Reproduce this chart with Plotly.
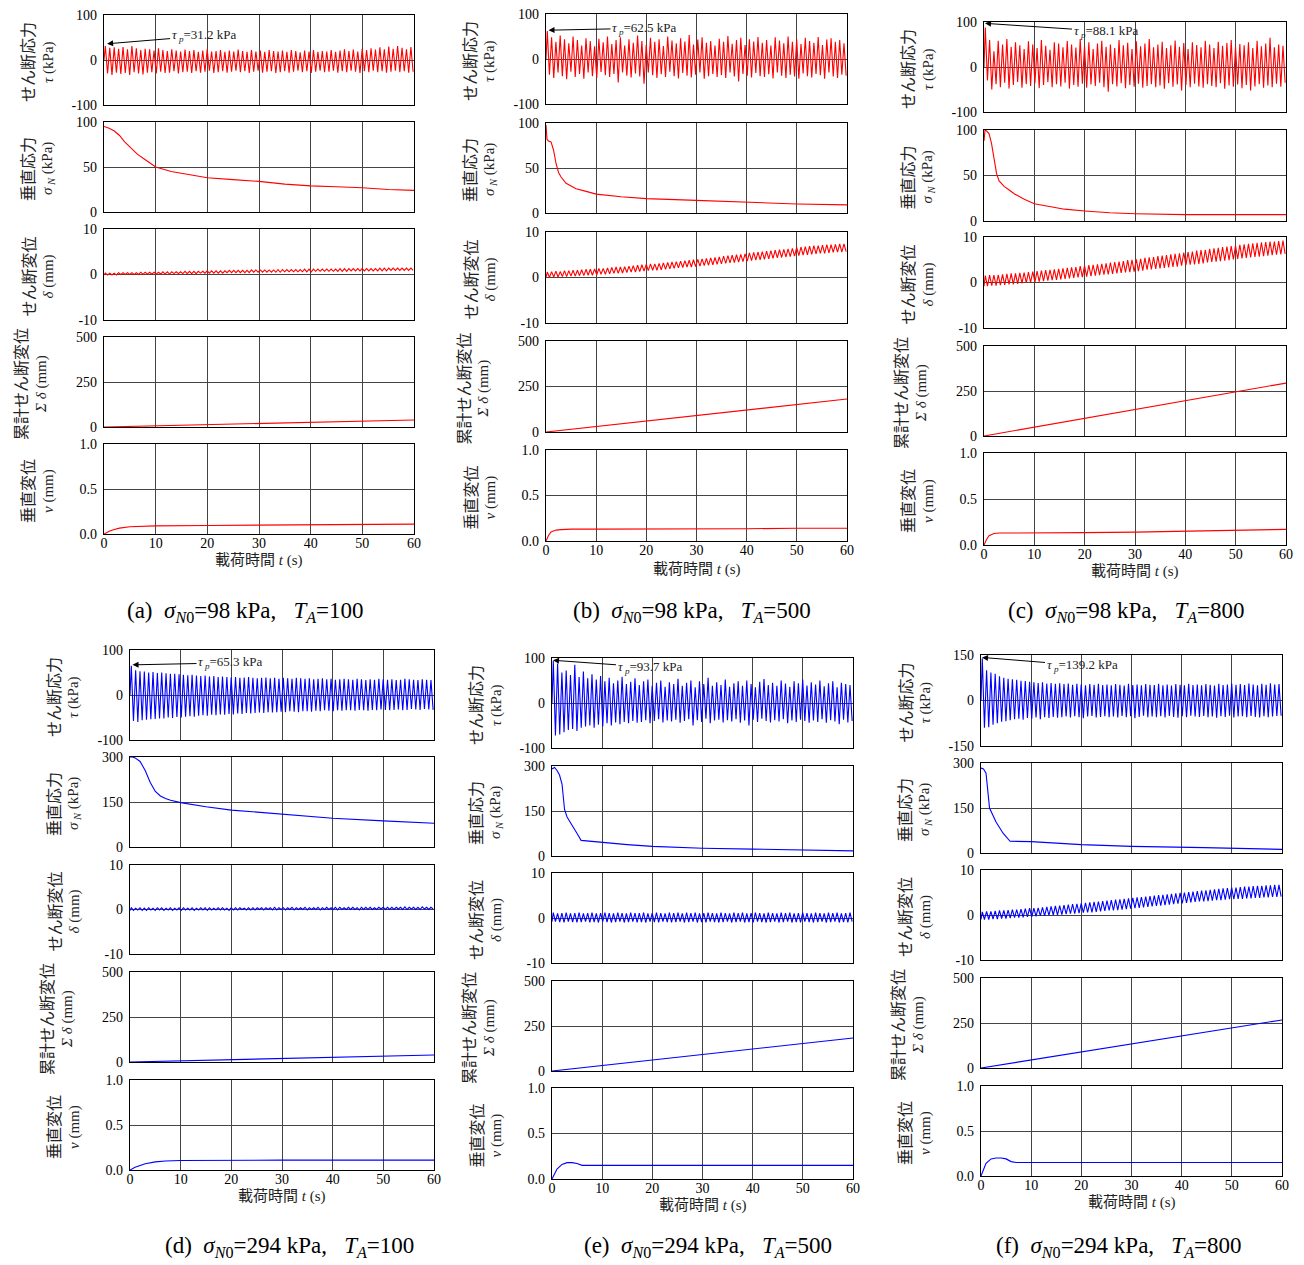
import plotly.graph_objects as go

W, H = 1304, 1265
OFF = 8                      # the page body margin the figure sits inside
FW, FH = W - OFF, H - OFF
T_END = 60.0

# ---------------- data ----------------
# shear stress tau (kPa): peak / trough of each loading cycle
tau_pk_a = [31, 27, 28, 25, 29, 24, 31, 26, 22, 25,
            24, 21, 26, 22, 20, 24, 21, 19, 23, 20,
            22, 18, 21, 24, 19, 20, 22, 18, 21, 19,
            23, 20, 18, 22, 19, 21, 18, 22, 20, 19,
            21, 18, 22, 20, 17, 21, 19, 22, 18, 20,
            19, 22, 18, 21, 24, 20, 23, 19, 25, 22,
            26, 23, 28, 24, 30, 25, 31, 27, 24, 29]
tau_tr_a = [-30, -33, -28, -31, -29, -33, -27, -30, -32, -28,
            -27, -30, -26, -29, -28, -25, -30, -27, -26, -29,
            -25, -28, -26, -24, -29, -27, -25, -28, -26, -24,
            -27, -25, -29, -26, -24, -28, -26, -25, -29, -27,
            -25, -28, -26, -24, -27, -25, -29, -26, -24, -27,
            -26, -24, -28, -25, -27, -24, -26, -29, -25, -27,
            -24, -27, -25, -28, -26, -24, -27, -25, -28, -26]
tau_pk_b = [62, 48, 38, 52, 44, 35, 50, 42, 30, 46,
            40, 28, 45, 37, 50, 33, 42, 48, 30, 44,
            36, 52, 40, 31, 47, 38, 44, 29, 50, 41,
            35, 46, 39, 53, 32, 43, 48, 36, 40, 30,
            45, 38, 51, 34, 42, 47, 31, 44, 39, 49,
            36, 42, 30, 48, 41, 35, 50, 38, 44, 33,
            47, 40, 36, 49, 31, 43, 46, 38, 42, 35]
tau_tr_b = [-35, -42, -30, -38, -45, -28, -40, -33, -44, -30,
            -38, -42, -29, -36, -40, -33, -52, -30, -37, -41,
            -32, -39, -55, -30, -36, -42, -34, -40, -28, -38,
            -43, -31, -37, -41, -35, -30, -44, -38, -33, -40,
            -36, -42, -30, -39, -50, -33, -37, -41, -31, -38,
            -40, -34, -43, -30, -37, -42, -35, -39, -44, -32,
            -38, -41, -33, -36, -44, -30, -39, -42, -35, -37]
tau_pk_c = [88, 60, 35, 58, 50, 62, 45, 55, 48, 40,
            57, 50, 42, 60, 47, 38, 55, 52, 44, 58,
            50, 43, 62, 47, 55, 40, 52, 58, 45, 50,
            42, 60, 48, 54, 40, 57, 46, 52, 62, 44,
            50, 56, 42, 48, 59, 45, 53, 40, 55, 49,
            44, 58, 50, 42, 56, 47, 53, 60, 45, 51,
            48, 55, 42, 58, 46, 52, 65, 44, 50, 47]
tau_tr_c = [-30, -50, -38, -45, -35, -48, -40, -33, -46, -38,
            -42, -36, -47, -40, -34, -45, -38, -43, -35, -48,
            -40, -44, -37, -46, -39, -42, -35, -45, -55, -38,
            -43, -36, -47, -40, -44, -37, -46, -42, -38, -45,
            -41, -48, -36, -44, -39, -52, -40, -45, -37, -43,
            -46, -38, -42, -45, -36, -48, -41, -44, -39, -47,
            -40, -52, -43, -38, -46, -41, -45, -37, -44, -35]
tau_pk_d = [65, 55, 53, 52, 50, 51, 49, 50, 48, 47,
            47, 46, 45, 44, 45, 43, 42, 43, 41, 42,
            40, 41, 40, 39, 40, 38, 39, 40, 38, 37,
            38, 39, 37, 38, 36, 38, 37, 36, 38, 37,
            36, 37, 35, 36, 37, 35, 36, 34, 35, 36,
            35, 34, 36, 35, 33, 35, 34, 36, 35, 34,
            35, 33, 34, 36, 35, 34, 33, 35, 34, 33]
tau_tr_d = [-58, -60, -56, -55, -54, -53, -52, -52, -50, -51,
            -49, -50, -48, -47, -48, -46, -45, -46, -44, -45,
            -43, -44, -42, -43, -41, -42, -40, -41, -40, -39,
            -40, -38, -39, -38, -37, -38, -36, -37, -38, -36,
            -36, -37, -35, -36, -34, -35, -36, -34, -35, -34,
            -34, -35, -33, -34, -35, -33, -34, -32, -33, -34,
            -33, -32, -34, -33, -31, -32, -33, -31, -32, -33]
tau_pk_e = [94, 88, 68, 72, 62, 85, 58, 70, 55, 64,
            52, 60, 48, 56, 44, 50, 58, 42, 47, 55,
            40, 48, 52, 38, 45, 50, 36, 46, 42, 54,
            38, 45, 50, 35, 48, 42, 56, 38, 46, 40,
            52, 36, 44, 48, 38, 50, 42, 35, 47, 53,
            40, 45, 38, 50, 43, 36, 48, 44, 52, 39,
            46, 41, 50, 37, 44, 48, 35, 45, 42, 40]
tau_tr_e = [-72, -70, -65, -60, -58, -62, -55, -52, -50, -55,
            -48, -52, -45, -50, -43, -47, -42, -45, -40, -44,
            -42, -38, -45, -40, -36, -43, -39, -41, -37, -44,
            -40, -36, -50, -38, -42, -35, -45, -39, -37, -43,
            -38, -41, -36, -44, -39, -50, -37, -42, -35, -40,
            -43, -38, -41, -36, -45, -39, -42, -37, -40, -44,
            -39, -42, -36, -44, -38, -41, -47, -37, -43, -40]
tau_pk_f = [139, 100, 92, 88, 80, 75, 72, 70, 68, 65,
            64, 62, 60, 58, 60, 56, 58, 55, 57, 54,
            56, 52, 55, 53, 50, 54, 52, 55, 51, 53,
            50, 54, 52, 49, 55, 51, 53, 50, 54, 52,
            51, 55, 50, 53, 49, 54, 52, 50, 55, 51,
            53, 50, 54, 52, 49, 55, 51, 53, 56, 52,
            54, 51, 56, 53, 50, 55, 52, 57, 53, 54]
tau_tr_f = [-90, -88, -80, -75, -70, -68, -65, -62, -60, -63,
            -58, -60, -56, -62, -55, -58, -54, -57, -55, -53,
            -56, -52, -55, -58, -53, -51, -56, -54, -52, -55,
            -53, -56, -51, -55, -52, -58, -54, -50, -55, -53,
            -55, -52, -56, -51, -54, -57, -52, -55, -50, -53,
            -54, -51, -55, -53, -57, -52, -54, -50, -56, -53,
            -52, -55, -51, -54, -56, -52, -55, -53, -51, -50]

# shear displacement delta (mm): high / low of each cycle
dl_hi_a = [0.3, 0.3, 0.3, 0.4, 0.4, 0.4, 0.4, 0.4, 0.5, 0.5,
           0.5, 0.5, 0.5, 0.6, 0.6, 0.6, 0.6, 0.6, 0.7, 0.7,
           0.7, 0.7, 0.7, 0.8, 0.8, 0.8, 0.8, 0.8, 0.9, 0.9,
           0.9, 0.9, 0.9, 1.0, 1.0, 1.0, 1.0, 1.0, 1.0, 1.1,
           1.1, 1.1, 1.1, 1.1, 1.1, 1.2, 1.2, 1.2, 1.2, 1.2,
           1.2, 1.2, 1.2, 1.3, 1.3, 1.3, 1.3, 1.3, 1.3, 1.3,
           1.3, 1.3, 1.4, 1.4, 1.4, 1.4, 1.4, 1.4, 1.4, 1.4]
dl_lo_a = [-0.1, -0.1, -0.1, 0.0, 0.0, 0.0, 0.0, 0.0, 0.0, 0.1,
           0.1, 0.1, 0.1, 0.1, 0.1, 0.2, 0.2, 0.2, 0.2, 0.2,
           0.2, 0.3, 0.3, 0.3, 0.3, 0.3, 0.3, 0.4, 0.4, 0.4,
           0.4, 0.4, 0.4, 0.5, 0.5, 0.5, 0.5, 0.5, 0.5, 0.5,
           0.6, 0.6, 0.6, 0.6, 0.6, 0.6, 0.6, 0.7, 0.7, 0.7,
           0.7, 0.7, 0.7, 0.7, 0.7, 0.8, 0.8, 0.8, 0.8, 0.8,
           0.8, 0.8, 0.8, 0.8, 0.9, 0.9, 0.9, 0.9, 0.9, 0.9]
dl_hi_b = [1.2, 1.3, 1.4, 1.3, 1.5, 1.5, 1.6, 1.6, 1.7, 1.8,
           1.8, 1.9, 2.0, 2.0, 2.1, 2.2, 2.3, 2.3, 2.4, 2.5,
           2.6, 2.7, 2.8, 2.9, 3.0, 3.0, 3.1, 3.2, 3.3, 3.4,
           3.5, 3.6, 3.7, 3.8, 3.9, 4.0, 4.1, 4.2, 4.3, 4.4,
           4.5, 4.7, 4.8, 4.9, 5.0, 5.1, 5.2, 5.4, 5.5, 5.6,
           5.7, 5.8, 5.9, 6.0, 6.1, 6.2, 6.3, 6.4, 6.6, 6.7,
           6.8, 6.9, 7.0, 7.0, 7.1, 7.2, 7.2, 7.3, 7.4, 7.4]
dl_lo_b = [0.0, 0.1, 0.1, 0.2, 0.2, 0.3, 0.3, 0.4, 0.4, 0.5,
           0.5, 0.6, 0.7, 0.7, 0.8, 0.9, 0.9, 1.0, 1.1, 1.2,
           1.2, 1.3, 1.4, 1.5, 1.6, 1.6, 1.7, 1.8, 1.9, 2.0,
           2.1, 2.2, 2.3, 2.3, 2.4, 2.5, 2.6, 2.7, 2.8, 2.9,
           3.0, 3.1, 3.2, 3.3, 3.4, 3.5, 3.6, 3.7, 3.8, 3.9,
           4.0, 4.1, 4.2, 4.3, 4.4, 4.5, 4.6, 4.7, 4.8, 4.9,
           5.0, 5.1, 5.2, 5.3, 5.3, 5.4, 5.5, 5.6, 5.6, 5.7]
dl_hi_c = [1.5, 1.6, 1.6, 1.7, 1.8, 1.9, 2.0, 2.0, 2.1, 2.2,
           2.3, 2.4, 2.5, 2.6, 2.7, 2.8, 2.9, 3.0, 3.1, 3.2,
           3.3, 3.4, 3.6, 3.7, 3.8, 3.9, 4.0, 4.1, 4.2, 4.4,
           4.5, 4.6, 4.7, 4.9, 5.0, 5.1, 5.2, 5.4, 5.5, 5.6,
           5.8, 5.9, 6.0, 6.2, 6.3, 6.4, 6.6, 6.7, 6.8, 7.0,
           7.1, 7.2, 7.4, 7.5, 7.6, 7.8, 7.9, 8.0, 8.1, 8.3,
           8.4, 8.5, 8.6, 8.7, 8.8, 8.9, 9.0, 9.0, 9.1, 9.2]
dl_lo_c = [-0.8, -0.7, -0.7, -0.6, -0.5, -0.4, -0.4, -0.3, -0.2, -0.1,
           0.0, 0.1, 0.2, 0.3, 0.4, 0.5, 0.6, 0.7, 0.8, 0.9,
           1.0, 1.1, 1.2, 1.3, 1.4, 1.5, 1.6, 1.7, 1.8, 1.9,
           2.0, 2.1, 2.2, 2.3, 2.4, 2.5, 2.6, 2.8, 2.9, 3.0,
           3.1, 3.2, 3.3, 3.4, 3.5, 3.7, 3.8, 3.9, 4.0, 4.1,
           4.2, 4.4, 4.5, 4.6, 4.7, 4.8, 4.9, 5.1, 5.2, 5.3,
           5.4, 5.5, 5.6, 5.7, 5.8, 5.9, 6.0, 6.1, 6.2, 6.3]
dl_hi_d = [0.4, 0.3, 0.4, 0.3, 0.4, 0.3, 0.4, 0.4, 0.3, 0.4,
           0.3, 0.4, 0.4, 0.3, 0.4, 0.3, 0.4, 0.4, 0.4, 0.3,
           0.4, 0.4, 0.3, 0.4, 0.4, 0.4, 0.3, 0.4, 0.4, 0.4,
           0.4, 0.4, 0.4, 0.5, 0.4, 0.4, 0.4, 0.5, 0.4, 0.4,
           0.5, 0.4, 0.4, 0.5, 0.4, 0.5, 0.4, 0.5, 0.5, 0.4,
           0.5, 0.5, 0.4, 0.5, 0.5, 0.5, 0.4, 0.5, 0.5, 0.5,
           0.5, 0.5, 0.5, 0.6, 0.5, 0.5, 0.5, 0.6, 0.5, 0.5]
dl_lo_d = [-0.2, -0.1, -0.2, -0.2, -0.1, -0.2, -0.1, -0.2, -0.1, -0.2,
           -0.1, -0.2, -0.1, -0.1, -0.2, -0.1, -0.1, -0.2, -0.1, -0.1,
           -0.1, -0.1, -0.2, -0.1, -0.1, 0.0, -0.1, -0.1, -0.1, 0.0,
           -0.1, 0.0, -0.1, -0.1, 0.0, -0.1, 0.0, -0.1, 0.0, 0.0,
           -0.1, 0.0, 0.0, -0.1, 0.0, 0.0, 0.0, -0.1, 0.0, 0.0,
           0.0, 0.0, -0.1, 0.0, 0.0, 0.0, 0.0, 0.1, 0.0, 0.0,
           0.0, 0.1, 0.0, 0.0, 0.1, 0.0, 0.0, 0.1, 0.0, 0.1]
dl_hi_e = [1.2, 1.0, 1.1, 1.2, 1.0, 1.1, 1.2, 1.0, 1.1, 1.2,
           1.0, 1.1, 1.2, 1.1, 1.0, 1.2, 1.1, 1.0, 1.2, 1.1,
           1.1, 1.2, 1.0, 1.1, 1.2, 1.1, 1.0, 1.2, 1.1, 1.2,
           1.0, 1.2, 1.1, 1.2, 1.0, 1.1, 1.2, 1.1, 1.0, 1.2,
           1.1, 1.0, 1.2, 1.1, 1.2, 1.0, 1.1, 1.2, 1.1, 1.0,
           1.2, 1.1, 1.0, 1.2, 1.1, 1.2, 1.0, 1.1, 1.2, 1.1,
           1.0, 1.2, 1.1, 1.0, 1.2, 1.1, 1.2, 1.0, 1.1, 1.2]
dl_lo_e = [-0.8, -0.9, -1.0, -0.8, -0.9, -1.0, -0.9, -0.8, -1.0, -0.9,
           -1.0, -0.8, -0.9, -1.0, -0.9, -0.8, -1.0, -0.9, -0.8, -1.0,
           -0.9, -1.0, -0.8, -0.9, -1.0, -0.8, -0.9, -1.0, -0.9, -0.8,
           -1.0, -0.9, -0.8, -1.0, -0.9, -1.0, -0.8, -0.9, -1.0, -0.9,
           -0.8, -1.0, -0.9, -0.8, -1.0, -0.9, -1.0, -0.8, -0.9, -1.0,
           -0.9, -0.8, -1.0, -0.9, -0.8, -1.0, -0.9, -1.0, -0.8, -0.9,
           -1.0, -0.9, -0.8, -1.0, -0.9, -0.8, -1.0, -0.9, -1.0, -0.8]
dl_hi_f = [0.7, 0.8, 0.8, 0.9, 1.0, 1.0, 1.1, 1.2, 1.2, 1.3,
           1.4, 1.5, 1.5, 1.6, 1.7, 1.8, 1.9, 2.0, 2.1, 2.2,
           2.3, 2.4, 2.5, 2.6, 2.7, 2.8, 2.9, 3.0, 3.1, 3.2,
           3.3, 3.4, 3.5, 3.6, 3.7, 3.8, 3.9, 4.0, 4.1, 4.2,
           4.3, 4.4, 4.5, 4.6, 4.7, 4.8, 4.9, 5.0, 5.1, 5.2,
           5.3, 5.4, 5.5, 5.6, 5.7, 5.8, 5.9, 6.0, 6.1, 6.1,
           6.2, 6.3, 6.3, 6.4, 6.5, 6.5, 6.6, 6.6, 6.7, 6.7]
dl_lo_f = [-1.0, -1.0, -0.9, -0.9, -0.8, -0.8, -0.7, -0.6, -0.6, -0.5,
           -0.4, -0.4, -0.3, -0.2, -0.2, -0.1, 0.0, 0.0, 0.1, 0.2,
           0.3, 0.3, 0.4, 0.5, 0.6, 0.6, 0.7, 0.8, 0.9, 1.0,
           1.0, 1.1, 1.2, 1.3, 1.4, 1.5, 1.6, 1.7, 1.8, 1.9,
           2.0, 2.1, 2.2, 2.3, 2.4, 2.5, 2.6, 2.7, 2.8, 2.9,
           3.0, 3.0, 3.1, 3.2, 3.3, 3.3, 3.4, 3.5, 3.5, 3.6,
           3.6, 3.7, 3.7, 3.8, 3.8, 3.9, 3.9, 4.0, 4.0, 4.1]

# normal stress sigma_N (kPa) at time knots
sn_t_a = [0, 1, 2, 3, 4, 5, 6.5, 8, 10, 13, 16, 20, 25, 30, 35, 40, 45, 50, 55, 60]
sn_a = [95, 93, 90, 85, 78, 72, 64, 58, 50, 45, 42, 38, 36, 34, 31, 29, 28, 27, 25, 24]
sn_t_b = [0, 0.2, 0.5, 1, 1.5, 2, 2.5, 3, 4, 5, 6, 8, 10, 15, 20, 30, 40, 50, 60]
sn_b = [98, 82, 80, 79, 70, 55, 45, 40, 33, 30, 27, 24, 21, 18, 16, 14, 12, 10, 9]
sn_t_c = [0, 0.2, 0.5, 1, 1.5, 2, 2.5, 3, 4, 5, 6, 8, 10, 13, 16, 20, 25, 30, 40, 50, 60]
sn_c = [88, 100, 99, 96, 85, 68, 52, 44, 38, 34, 30, 24, 19, 16, 13, 11, 9, 8, 7, 7, 7]
sn_t_d = [0, 0.5, 1, 2, 3, 4, 5, 6, 7, 8, 10, 12, 15, 20, 25, 30, 40, 50, 60]
sn_d = [300, 300, 297, 285, 255, 215, 185, 170, 162, 156, 148, 142, 134, 123, 116, 108, 96, 87, 79]
sn_t_e = [0, 0.5, 1, 1.5, 2, 2.5, 3, 4, 5, 5.8, 7, 10, 15, 20, 30, 40, 50, 60]
sn_e = [290, 295, 285, 270, 240, 155, 130, 100, 75, 52, 50, 45, 38, 32, 26, 23, 20, 17]
sn_t_f = [0, 0.5, 1, 1.7, 3, 4.4, 5.8, 10, 20, 30, 44.5, 60]
sn_f = [283, 280, 266, 150, 103, 66, 39, 38, 28, 22, 18, 12]

# cumulative shear displacement (mm) every 10 s
sum_t = [0, 10, 20, 30, 40, 50, 60]
sum_a = [0, 6, 12, 18, 25, 32, 39]
sum_b = [0, 30, 60, 90, 120, 150, 181]
sum_c = [0, 49, 98, 147, 196, 245, 294]
sum_d = [0, 6, 12, 19, 25, 32, 39]
sum_e = [0, 30, 61, 91, 122, 152, 183]
sum_f = [0, 44, 89, 133, 178, 222, 267]

# vertical displacement v (mm)
v_t_a = [0, 1, 2, 3, 5, 8, 10, 20, 30, 40, 50, 60]
v_a = [0, 0.03, 0.05, 0.065, 0.08, 0.085, 0.09, 0.095, 0.1, 0.105, 0.11, 0.11]
v_t_b = [0, 0.5, 1, 2, 3, 5, 10, 20, 30, 40, 50, 60]
v_b = [0, 0.06, 0.1, 0.12, 0.125, 0.13, 0.13, 0.13, 0.135, 0.135, 0.14, 0.14]
v_t_c = [0, 0.5, 1, 2, 3, 5, 10, 20, 30, 40, 50, 60]
v_c = [0, 0.06, 0.1, 0.125, 0.13, 0.13, 0.135, 0.135, 0.14, 0.15, 0.16, 0.17]
v_t_d = [0, 1, 2, 3, 5, 7, 10, 20, 30, 40, 50, 60]
v_d = [0, 0.03, 0.05, 0.07, 0.09, 0.1, 0.105, 0.11, 0.11, 0.11, 0.11, 0.11]
v_t_e = [0, 0.5, 1, 2, 3, 4, 5, 6, 7, 10, 20, 30, 40, 50, 60]
v_e = [0, 0.06, 0.11, 0.16, 0.18, 0.18, 0.17, 0.15, 0.15, 0.15, 0.15, 0.15, 0.15, 0.15, 0.15]
v_t_f = [0, 0.5, 1, 2, 3, 4, 5, 6, 7, 10, 20, 30, 40, 50, 60]
v_f = [0, 0.08, 0.14, 0.19, 0.2, 0.2, 0.19, 0.16, 0.15, 0.15, 0.15, 0.15, 0.15, 0.15, 0.15]

tau_peak_txt = ["31.2", "62.5", "88.1", "65.3", "93.7", "139.2"]
sig0_txt = ["98", "98", "98", "294", "294", "294"]
ta_txt = ["100", "500", "800", "100", "500", "800"]
panel_ids = ["a", "b", "c", "d", "e", "f"]

# ---------------- layout geometry (page pixels) ----------------
# tip = arrow head (data coords), lab = pixel offset of the label centre from the head
geo = [
    dict(L=104, R=414, boxes=[(15, 105), (122, 212), (229, 320), (337, 427), (444, 534)], xlab=560, cap=(245, 612),
         tip=(0.6, 36), lab=(97, -8)),
    dict(L=546, R=847, boxes=[(14, 104), (123, 213), (232, 323), (341, 432), (450, 541)], xlab=569, cap=(692, 612),
         tip=(0.5, 64), lab=(96, -2)),
    dict(L=984, R=1286, boxes=[(22, 112), (130, 221), (237, 328), (346, 436), (453, 545)], xlab=571, cap=(1126, 612),
         tip=(0.2, 97), lab=(121, 8)),
    dict(L=130, R=434, boxes=[(650, 740), (757, 847), (865, 954), (972, 1062), (1080, 1170)], xlab=1196, cap=(289, 1247),
         tip=(0.5, 67), lab=(98, -2)),
    dict(L=552, R=853, boxes=[(658, 748), (766, 856), (873, 963), (981, 1071), (1088, 1179)], xlab=1205, cap=(708, 1247),
         tip=(0.2, 95), lab=(97, 7)),
    dict(L=981, R=1282, boxes=[(655, 746), (763, 853), (870, 960), (978, 1068), (1086, 1176)], xlab=1202, cap=(1118, 1247),
         tip=(0.2, 142), lab=(100, 8)),
]

SERIF = "Liberation Serif, Noto Sans CJK JP"
CJK = "Noto Sans CJK JP"
GRID = "#444444"


def px(x):
    return (x - OFF) / FW


def py(y):
    return 1 - (y - OFF) / FH


def cycles(hi, lo, start):
    p = T_END / len(hi)
    t, y = [0.0], [start]
    for i in range(len(hi)):
        t += [p * (i + 0.3), p * (i + 0.8)]
        y += [hi[i], lo[i]]
    return t, y


panels = [
    (tau_pk_a, tau_tr_a, dl_hi_a, dl_lo_a, sn_t_a, sn_a, sum_a, v_t_a, v_a),
    (tau_pk_b, tau_tr_b, dl_hi_b, dl_lo_b, sn_t_b, sn_b, sum_b, v_t_b, v_b),
    (tau_pk_c, tau_tr_c, dl_hi_c, dl_lo_c, sn_t_c, sn_c, sum_c, v_t_c, v_c),
    (tau_pk_d, tau_tr_d, dl_hi_d, dl_lo_d, sn_t_d, sn_d, sum_d, v_t_d, v_d),
    (tau_pk_e, tau_tr_e, dl_hi_e, dl_lo_e, sn_t_e, sn_e, sum_e, v_t_e, v_e),
    (tau_pk_f, tau_tr_f, dl_hi_f, dl_lo_f, sn_t_f, sn_f, sum_f, v_t_f, v_f),
]

titles1 = ["せん断応力", "垂直応力", "せん断変位", "累計せん断変位", "垂直変位"]
titles2 = ["<i>τ</i> (kPa)", "<i>σ</i><sub> <i>N</i></sub> (kPa)", "<i>δ</i> (mm)",
           "<i>Σ δ</i> (mm)", "<i>v</i> (mm)"]

fig = go.Figure()
annos = []
k = 0
for pi, (tp, tt, dh, dlo, snt, sn, sm, vt, vv) in enumerate(panels):
    g = geo[pi]
    color = "#ff0000" if pi < 3 else "#0000ff"
    taumax = 150 if pi == 5 else 100
    snmax = 100 if pi < 3 else 300
    series = [
        cycles(tp, tt, 0.0),
        (snt, sn),
        cycles(dh, dlo, dlo[0]),
        (sum_t, sm),
        (vt, vv),
    ]
    yr = [(-taumax, taumax), (0, snmax), (-10, 10), (0, 500), (0, 1)]
    for si in range(5):
        k += 1
        xs, ys = series[si]
        sx = "" if k == 1 else str(k)
        fig.add_trace(go.Scatter(x=xs, y=ys, mode="lines", xaxis="x" + sx, yaxis="y" + sx,
                                 line=dict(color=color, width=1.1), showlegend=False, hoverinfo="skip"))
        top, bot = g["boxes"][si]
        lo, hi = yr[si]
        mid = (lo + hi) / 2
        if si == 4:
            ttxt = ["0.0", "0.5", "1.0"]
        else:
            ttxt = [str(int(lo)), str(int(mid)), str(int(hi))]
        last = si == 4
        fig.layout["xaxis" + sx] = dict(
            domain=[px(g["L"]), px(g["R"])], anchor="y" + sx, range=[0, T_END],
            tickvals=[0, 10, 20, 30, 40, 50, 60], showticklabels=last, ticks="", ticklabelstandoff=-4,
            ticklabeloverflow="allow",
            showgrid=True, gridcolor=GRID, gridwidth=1, zeroline=False, automargin=False,
            showline=True, linecolor="black", linewidth=1.3, mirror=True,
            tickfont=dict(family=SERIF, size=14, color="black"), fixedrange=True)
        fig.layout["yaxis" + sx] = dict(
            domain=[py(bot), py(top)], anchor="x" + sx, range=[lo, hi],
            tickvals=[lo, mid, hi], ticktext=ttxt, ticks="", ticklabelstandoff=3,
            ticklabeloverflow="allow",
            showgrid=True, gridcolor=GRID, gridwidth=1, zeroline=False, automargin=False,
            showline=True, linecolor="black", linewidth=1.3, mirror=True,
            tickfont=dict(family=SERIF, size=14, color="black"), fixedrange=True)
        cy = (top + bot) / 2 + 2
        off1, off2 = (84, 63) if si == 3 else (77, 56)
        annos.append(dict(xref="paper", yref="paper", x=px(g["L"] - off1), y=py(cy),
                          text=titles1[si], textangle=-90, showarrow=False,
                          xanchor="center", yanchor="middle",
                          font=dict(family=CJK, size=16, color="#222222")))
        annos.append(dict(xref="paper", yref="paper", x=px(g["L"] - off2), y=py(cy),
                          text=titles2[si], textangle=-90, showarrow=False,
                          xanchor="center", yanchor="middle",
                          font=dict(family=SERIF, size=15, color="#222222")))
        if si == 0:
            annos.append(dict(xref="x" + sx, yref="y" + sx, x=g["tip"][0], y=g["tip"][1],
                              ax=g["lab"][0], ay=g["lab"][1], showarrow=True,
                              text="<i>τ</i><sub> <i>p</i></sub>=" + tau_peak_txt[pi] + " kPa",
                              arrowhead=2, arrowsize=1.2, arrowwidth=1, arrowcolor="black",
                              font=dict(family=SERIF, size=13, color="#222222")))
    # x-axis label and caption
    annos.append(dict(xref="paper", yref="paper", x=px((g["L"] + g["R"]) / 2), y=py(g["xlab"]),
                      text="載荷時間 <i>t</i> (s)", showarrow=False, xanchor="center", yanchor="middle",
                      font=dict(family=SERIF, size=15, color="#222222")))
    annos.append(dict(xref="paper", yref="paper", x=px(g["cap"][0]), y=py(g["cap"][1]),
                      text="(" + panel_ids[pi] + ")\u00a0 <i>σ</i><sub><i>N</i>0</sub>=" + sig0_txt[pi]
                           + " kPa,\u00a0\u00a0 <i>T</i><sub><i>A</i></sub>=" + ta_txt[pi],
                      showarrow=False, xanchor="center", yanchor="middle",
                      font=dict(family=SERIF, size=23, color="black")))

fig.update_layout(width=FW, height=FH, margin=dict(l=0, r=0, t=0, b=0, pad=0, autoexpand=False),
                  paper_bgcolor="white", plot_bgcolor="white", showlegend=False,
                  annotations=annos, font=dict(family=SERIF))
fig.write_html("out.html")
